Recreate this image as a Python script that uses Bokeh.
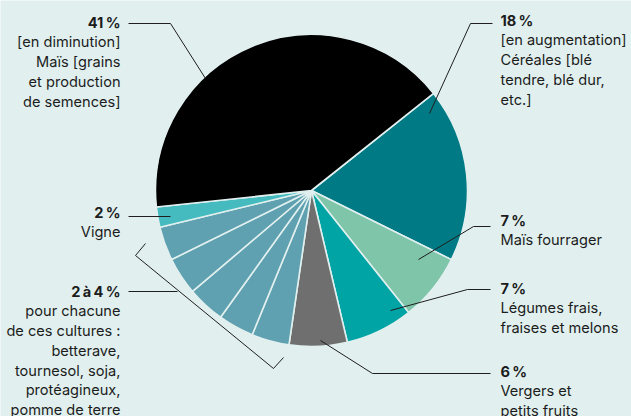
import math
from bokeh.plotting import figure
from bokeh.models import Range1d, ColumnDataSource
from bokeh.embed import file_html
from bokeh.resources import INLINE
from bokeh.core.properties import value

W, H = 631, 416

# ---- data (clockwise from the Céréales slice) ----
categories = ["Céréales", "Maïs fourrager", "Légumes frais", "Vergers",
              "Betterave", "Tournesol", "Soja", "Protéagineux", "Pomme de terre",
              "Vigne", "Maïs grains"]
shares = [18, 7, 7, 6, 3.9, 3.7, 3.9, 3.9, 3.5, 2.1, 41]
colors = ["#007b86", "#7ec5aa", "#00a4a5", "#6f6f6f",
          "#5fa1b0", "#5fa1b0", "#5fa1b0", "#5fa1b0", "#5fa1b0",
          "#45bbbf", "#000000"]

label_bold = ["41\u2009%", "18\u2009%", "7\u2009%", "7\u2009%", "6\u2009%", "2\u2009%", "2\u2009à\u20094\u2009%"]
label_rest = [
    ["[en diminution]", "Maïs [grains", "et production", "de semences]"],
    ["[en augmentation]", "Céréales [blé", "tendre, blé dur,", "etc.]"],
    ["Maïs fourrager"],
    ["Légumes frais,", "fraises et melons"],
    ["Vergers et", "petits fruits"],
    ["Vigne"],
    ["pour chacune", "de ces cultures :", "betterave,", "tournesol, soja,", "protéagineux,", "pomme de terre"],
]

# ---- layout (pixel coords, y down) ----
CX, CY, R = 311, 190, 156
START_DEG = 38.5
label_x = [120, 500, 500, 500, 500, 120, 120]
label_y = [22, 20, 220, 288, 371, 212, 291]
label_align = ["right", "left", "left", "left", "left", "right", "right"]
LINE_STEP = 19.75
leaders = [
    [(128, 23), (170, 23), (205, 78)],
    [(492, 23), (470, 23), (429, 113)],
    [(490, 226), (473, 226), (418, 259)],
    [(490, 289), (467, 289), (390, 310)],
    [(490, 373), (372, 373), (320, 340)],
    [(128, 216), (170, 216)],
    [(128, 291), (177, 291)],
    [(145, 243), (135, 255), (273, 368), (283, 357)],
]

BG = "#e1f0ef"
TXT = "#1c1c1c"
FONT = "Inter"
FS = "14.6px"


def fy(y):
    return H - y


p = figure(width=W, height=H, output_backend="svg", toolbar_location=None,
           x_range=Range1d(0, W), y_range=Range1d(0, H), min_border=0)
p.axis.visible = False
p.grid.visible = False
p.outline_line_color = None
p.background_fill_color = BG
p.border_fill_color = BG

total = sum(shares)
starts, ends = [], []
cum = 0.0
for v in shares:
    s = START_DEG - 360.0 * cum / total
    e = s - 360.0 * v / total
    starts.append(math.radians(e))
    ends.append(math.radians(s))
    cum += v

src = ColumnDataSource(dict(cat=categories, share=shares, color=colors,
                            start=starts, end=ends))
p.wedge(x=CX, y=fy(CY), radius=R, start_angle="start", end_angle="end",
        direction="anticlock", fill_color="color",
        line_color=BG, line_width=1.6, source=src)

for pts in leaders:
    p.line([q[0] for q in pts], [fy(q[1]) for q in pts], line_color="#1e1e1e", line_width=1)

for i in range(len(label_bold)):
    p.text([label_x[i]], [fy(label_y[i])], text=[label_bold[i]], text_align=label_align[i],
           text_baseline="middle", text_font=value(FONT), text_font_size=FS,
           text_font_style="bold", text_color=TXT)
    rest = label_rest[i]
    ys = [fy(label_y[i] + LINE_STEP * (k + 1)) for k in range(len(rest))]
    p.text([label_x[i]] * len(rest), ys, text=rest, text_align=label_align[i],
           text_baseline="middle", text_font=value(FONT), text_font_size=FS,
           text_color=TXT)

open("out.html", "w").write(file_html(p, INLINE))
